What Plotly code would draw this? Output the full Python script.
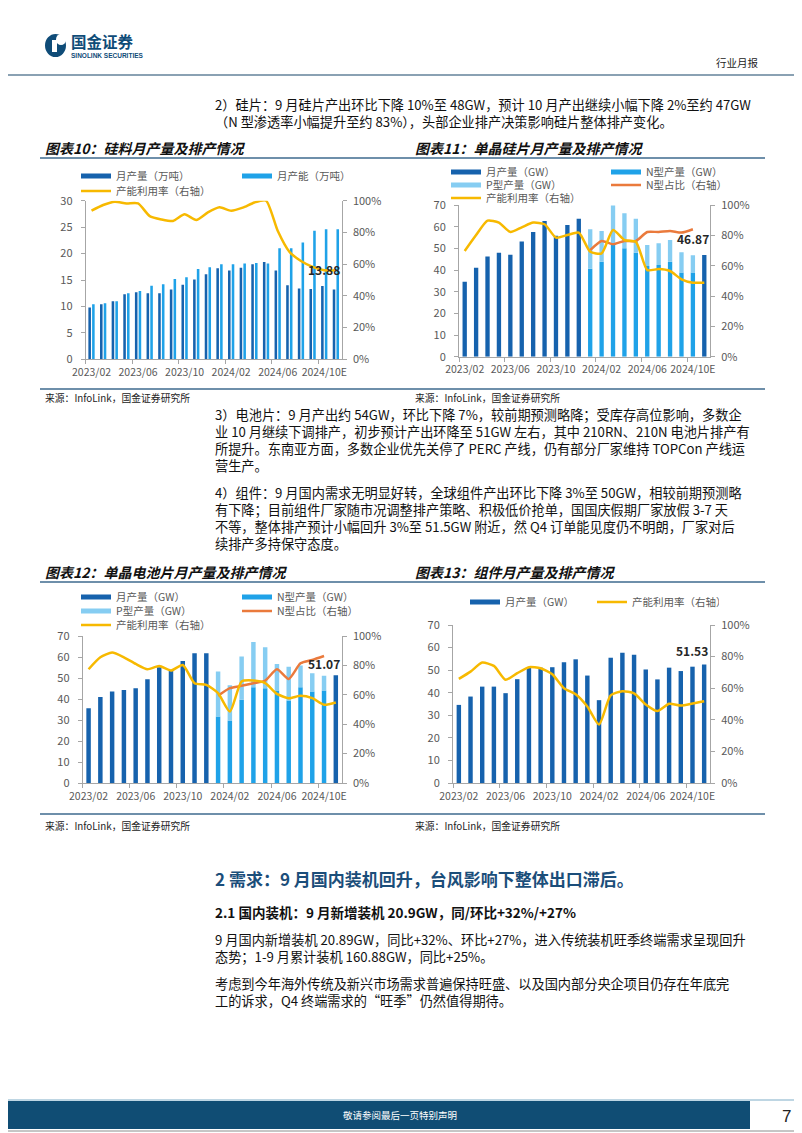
import plotly.graph_objects as go

# The page is laid out in reference-pixel coordinates; the browser body adds an
# 8px margin, so the figure is sized to fit the window and positions are offset.
PAGE_W, PAGE_H = 802, 1133
OFF = 8
W, H = PAGE_W - OFF, PAGE_H - OFF


def px(x):
    return (x - OFF) / W


def py(y):
    return 1 - (y - OFF) / H


# ---------------- data ----------------
n_periods = 22
periods = list(range(n_periods))
tick_positions = [0, 4, 8, 12, 16, 20]
tick_labels = ["2023/02", "2023/06", "2023/10", "2024/02", "2024/06", "2024/10E"]
label_index = 20

# 图表10 硅料
poly_output = [9.8, 10.4, 11.0, 12.3, 12.7, 12.5, 12.5, 13.2, 14.1, 15.1, 16.1, 17.2,
               16.8, 17.3, 18.0, 18.4, 16.8, 14.0, 13.4, 13.3, 13.88, 13.2]
poly_capacity = [10.4, 10.6, 11.0, 12.5, 12.9, 13.9, 14.2, 15.2, 15.5, 17.1, 17.4, 18.0,
                 18.0, 18.1, 18.2, 18.1, 21.0, 21.0, 22.1, 24.3, 24.6, 24.6]
poly_util = [93.7, 97.3, 99.4, 98.3, 98.3, 90.3, 88.2, 87.2, 91.4, 87.8, 92.6, 95.8,
             93.7, 95.6, 98.9, 100.0, 81.0, 67.8, 62.0, 58.3, 56.1, 56.1]

# 图表11 单晶硅片
wafer_output = [34.6, 41.1, 46.2, 48.0, 47.1, 53.2, 57.5, 62.6, 55.8, 60.8, 63.7,
                None, None, None, None, None, None, None, None, None, None, 46.9]
wafer_n = [None] * 11 + [40.6, 43.8, 52.0, 50.0, 48.0, 41.8, 42.3, 43.8, 38.8, 38.8] + [None]
wafer_p = [None] * 11 + [18.2, 14.2, 17.8, 16.2, 15.7, 9.7, 10.0, 10.0, 9.4, 8.07] + [None]
wafer_nshare = [None] * 11 + [70.3, 76.3, 74.1, 76.3, 76.3, 82.2, 82.2, 82.9, 81.8, 84.0] + [None]
wafer_util = [69.7, 80.2, 89.7, 88.4, 82.2, 85.3, 88.4, 87.3, 78.5, 80.2, 81.8, 69.2,
              68.1, 83.5, 76.9, 75.8, 57.1, 57.8, 56.5, 51.0, 48.8, 48.8]

# 图表12 单晶电池片
cell_output = [35.6, 40.9, 43.6, 44.3, 45.1, 49.4, 55.1, 53.5, 58.1, 61.8, 61.8,
               None, None, None, None, None, None, None, None, None, None, 51.3]
cell_n = [None] * 11 + [31.7, 29.8, 39.6, 45.6, 45.1, 44.0, 39.3, 45.6, 43.6, 44.1] + [None]
cell_p = [None] * 11 + [21.4, 16.8, 20.6, 21.6, 19.5, 12.7, 16.1, 10.4, 8.7, 6.97] + [None]
cell_nshare = [None] * 11 + [59.3, 64.5, 66.1, 67.9, 69.7, 77.4, 70.8, 81.4, 83.7, 86.4] + [None]
cell_util = [77.4, 85.5, 88.7, 85.5, 81.0, 77.4, 79.6, 76.5, 80.3, 67.9, 66.7, 61.1,
             48.6, 69.0, 69.7, 67.9, 60.6, 57.7, 59.3, 57.7, 53.2, 54.8]

# 图表13 组件
module_output = [34.6, 38.3, 42.7, 42.7, 39.8, 46.0, 51.3, 51.1, 51.3, 53.5, 54.8, 47.6,
                 36.7, 55.5, 57.7, 56.8, 50.3, 45.9, 51.1, 49.6, 51.53, 52.5]
module_util = [65.9, 70.5, 76.2, 74.1, 65.3, 69.5, 73.3, 72.6, 68.8, 60.0, 56.2, 48.4,
               37.0, 55.4, 58.1, 56.7, 49.7, 45.5, 50.1, 49.0, 50.3, 51.8]

# ---------------- style ----------------
DARK = "#1662ad"
BRIGHT = "#1fa2e8"
LIGHT = "#86cdf2"
YELLOW = "#f7b900"
ORANGE = "#ea7a3c"
AXC = "#a6a6a6"
TXT = "#595959"
FONT = "Noto Sans CJK SC, Noto Sans, sans-serif"

fig = go.Figure()


def base_of(vals):
    return [v if v is not None else 0 for v in vals]


def add_bar(xa, ya, y, color, width, offset, base=None):
    fig.add_trace(go.Bar(x=periods, y=y, base=base, xaxis=xa, yaxis=ya, width=width,
                         offset=offset, marker=dict(color=color, line=dict(width=0)),
                         showlegend=False, hoverinfo="skip"))


def add_line(xa, ya, y, color, name, legend):
    fig.add_trace(go.Scatter(x=periods, y=y, xaxis=xa, yaxis=ya, mode="lines", name=name,
                             line=dict(color=color, width=2.5, shape="spline", smoothing=0.6),
                             legend=legend, showlegend=True, hoverinfo="skip"))


def add_key(xa, ya, color, name, legend):
    fig.add_trace(go.Scatter(x=[None], y=[None], xaxis=xa, yaxis=ya, mode="lines", name=name,
                             line=dict(color=color, width=5), legend=legend, showlegend=True))


BW = 0.38
# Chart 10
add_bar("x", "y", poly_output, DARK, 0.22, -0.27)
add_bar("x", "y", poly_capacity, BRIGHT, 0.22, 0.05)
add_key("x", "y", DARK, "月产量（万吨）", "legend")
add_key("x", "y", BRIGHT, "月产能（万吨）", "legend")
add_line("x", "y2", poly_util, YELLOW, "产能利用率（右轴）", "legend2")

# Chart 11
add_bar("x2", "y3", wafer_output, DARK, BW, -BW / 2)
add_bar("x2", "y3", wafer_n, BRIGHT, BW, -BW / 2)
add_bar("x2", "y3", wafer_p, LIGHT, BW, -BW / 2, base=base_of(wafer_n))
add_key("x2", "y3", DARK, "月产量（GW）", "legend3")
add_key("x2", "y3", BRIGHT, "N型产量（GW）", "legend3")
add_key("x2", "y3", LIGHT, "P型产量（GW）", "legend4")
add_line("x2", "y4", wafer_nshare, ORANGE, "N型占比（右轴）", "legend4")
add_line("x2", "y4", wafer_util, YELLOW, "产能利用率（右轴）", "legend5")

# Chart 12
add_bar("x3", "y5", cell_output, DARK, BW, -BW / 2)
add_bar("x3", "y5", cell_n, BRIGHT, BW, -BW / 2)
add_bar("x3", "y5", cell_p, LIGHT, BW, -BW / 2, base=base_of(cell_n))
add_key("x3", "y5", DARK, "月产量（GW）", "legend6")
add_key("x3", "y5", BRIGHT, "N型产量（GW）", "legend6")
add_key("x3", "y5", LIGHT, "P型产量（GW）", "legend7")
add_line("x3", "y6", cell_nshare, ORANGE, "N型占比（右轴）", "legend7")
add_line("x3", "y6", cell_util, YELLOW, "产能利用率（右轴）", "legend8")

# Chart 13
add_bar("x4", "y7", module_output, DARK, BW, -BW / 2)
add_key("x4", "y7", DARK, "月产量（GW）", "legend9")
add_line("x4", "y8", module_util, YELLOW, "产能利用率（右轴）", "legend9")

# ---------------- axes ----------------
minor_vals = [p - 0.5 for p in tick_positions]


def xcfg(x0, x1, anchor):
    return dict(domain=[px(x0), px(x1)], anchor=anchor, range=[-0.5, n_periods - 0.5],
                tickmode="array", tickvals=tick_positions, ticktext=tick_labels,
                showline=True, linecolor=AXC, linewidth=1, ticks="", showgrid=False,
                zeroline=False, tickfont=dict(size=10.5, color=TXT), ticklabelstandoff=3,
                minor=dict(tickmode="array", tickvals=minor_vals, ticks="outside", ticklen=4,
                           tickcolor=AXC, showgrid=False),
                automargin=False, fixedrange=True)


def ycfg(y0, y1, anchor, ymax, dtick):
    return dict(domain=[py(y1), py(y0)], anchor=anchor, range=[0, ymax], dtick=dtick,
                showline=True, linecolor=AXC, linewidth=1, ticks="outside", ticklen=4,
                tickcolor=AXC, showgrid=False, zeroline=False,
                tickfont=dict(size=11, color=TXT), ticklabelstandoff=6,
                automargin=False, fixedrange=True)


def y2cfg(over, anchor):
    return dict(overlaying=over, side="right", anchor=anchor, range=[0, 100], dtick=20,
                ticksuffix="%", showline=True, linecolor=AXC, linewidth=1, ticks="outside",
                ticklen=4, tickcolor=AXC, showgrid=False, zeroline=False,
                tickfont=dict(size=11, color=TXT), ticklabelstandoff=4,
                automargin=False, fixedrange=True)


layout = dict(
    width=W, height=H, margin=dict(l=0, r=0, t=0, b=0, pad=0, autoexpand=False),
    paper_bgcolor="white", plot_bgcolor="rgba(0,0,0,0)",
    font=dict(family=FONT, color=TXT),
    barmode="overlay", showlegend=True,
    xaxis=xcfg(85.7, 341.7, "y"), yaxis=ycfg(200.7, 359.3, "x", 30, 5), yaxis2=y2cfg("y", "x"),
    xaxis2=xcfg(459, 710, "y3"), yaxis3=ycfg(205, 356.7, "x2", 70, 10), yaxis4=y2cfg("y3", "x2"),
    xaxis3=xcfg(82.7, 341.7, "y5"), yaxis5=ycfg(636, 783, "x3", 70, 10), yaxis6=y2cfg("y5", "x3"),
    xaxis4=xcfg(453, 710, "y7"), yaxis7=ycfg(625, 783, "x4", 70, 10), yaxis8=y2cfg("y7", "x4"),
)


def leg(x, y, entry):
    return dict(orientation="h", x=px(x), y=py(y), xanchor="left", yanchor="middle",
                bgcolor="rgba(0,0,0,0)", font=dict(size=10.5, color=TXT, family=FONT),
                entrywidth=entry, entrywidthmode="pixels", itemwidth=30, tracegroupgap=0,
                itemclick=False, itemdoubleclick=False)


layout["legend"] = leg(76, 176, 116)
layout["legend2"] = leg(76, 191, 116)
layout["legend3"] = leg(446, 172, 115)
layout["legend4"] = leg(446, 185, 115)
layout["legend5"] = leg(446, 198, 115)
layout["legend6"] = leg(76, 597, 116)
layout["legend7"] = leg(76, 611, 116)
layout["legend8"] = leg(76, 625, 116)
layout["legend9"] = leg(465, 602, 82)
fig.update_layout(**layout)

# ---------------- annotations ----------------
ann = []


def text(x, y, s, size=13, color="#111111", xanchor="left", bold=False, italic=False, family=FONT):
    if italic:
        s = "<i>" + s + "</i>"
    if bold:
        s = "<b>" + s + "</b>"
    ann.append(dict(x=px(x), y=py(y), xref="paper", yref="paper", text=s, showarrow=False,
                    xanchor=xanchor, yanchor="middle", borderpad=0,
                    font=dict(size=size, color=color, family=family)))


# data labels
for xa, ya, val, shift in [("x", "y", poly_output[label_index], 6),
                           ("x2", "y3", wafer_n[label_index] + wafer_p[label_index], 6),
                           ("x3", "y5", cell_n[label_index] + cell_p[label_index], 2),
                           ("x4", "y7", module_output[label_index], 6)]:
    ann.append(dict(x=label_index, y=val, xref=xa, yref=ya, text="<b>%.2f</b>" % val,
                    showarrow=False, yanchor="bottom", yshift=shift,
                    font=dict(size=12, color="#262626", family=FONT)))

# header
text(70, 41, "国金证券", size=15.5, color="#0f4c78", bold=True)
text(70, 56, "SINOLINK SECURITIES", size=6.5, color="#0f4c78", bold=True,
     family="Liberation Sans, Arial, sans-serif")
text(760, 63, "行业月报", size=10.5, color="#222222", xanchor="right")

body = [
    (105, "2）硅片：9 月硅片产出环比下降 10%至 48GW，预计 10 月产出继续小幅下降 2%至约 47GW"),
    (122, "（N 型渗透率小幅提升至约 83%），头部企业排产决策影响硅片整体排产变化。"),
    (414.5, "3）电池片：9 月产出约 54GW，环比下降 7%，较前期预测略降；受库存高位影响，多数企"),
    (431, "业 10 月继续下调排产，初步预计产出环降至 51GW 左右，其中 210RN、210N 电池片排产有"),
    (448, "所提升。东南亚方面，多数企业优先关停了 PERC 产线，仍有部分厂家维持 TOPCon 产线运"),
    (465, "营生产。"),
    (492, "4）组件：9 月国内需求无明显好转，全球组件产出环比下降 3%至 50GW，相较前期预测略"),
    (509, "有下降；目前组件厂家随市况调整排产策略、积极低价抢单，国国庆假期厂家放假 3-7 天"),
    (526, "不等，整体排产预计小幅回升 3%至 51.5GW 附近，然 Q4 订单能见度仍不明朗，厂家对后"),
    (543, "续排产多持保守态度。"),
    (939, "9 月国内新增装机 20.89GW，同比+32%、环比+27%，进入传统装机旺季终端需求呈现回升"),
    (956, "态势；1-9 月累计装机 160.88GW，同比+25%。"),
    (983, "考虑到今年海外传统及新兴市场需求普遍保持旺盛、以及国内部分央企项目仍存在年底完"),
    (1000, "工的诉求，Q4 终端需求的“旺季”仍然值得期待。"),
]
for y, s in body:
    text(214, y, s, size=13.2)

text(214, 878, "2 需求：9 月国内装机回升，台风影响下整体出口滞后。", size=17, color="#1b4e7a", bold=True)
text(214, 912, "2.1 国内装机：9 月新增装机 20.9GW，同/环比+32%/+27%", size=13.5, color="#111111", bold=True)

# chart titles and sources
text(44, 148, "图表10：硅料月产量及排产情况", size=14, color="#111111", bold=True, italic=True)
text(414, 148, "图表11：单晶硅片月产量及排产情况", size=14, color="#111111", bold=True, italic=True)
text(44, 572, "图表12：单晶电池片月产量及排产情况", size=14, color="#111111", bold=True, italic=True)
text(414, 572, "图表13：组件月产量及排产情况", size=14, color="#111111", bold=True, italic=True)
for y in (397.5, 826):
    text(44, y, "来源：InfoLink，国金证券研究所", size=9.8, color="#222222")
    text(414, y, "来源：InfoLink，国金证券研究所", size=9.8, color="#222222")

# footer
text(400, 1115, "敬请参阅最后一页特别声明", size=9.5, color="white", xanchor="center")
text(786, 1116, "7", size=17, color="#222222", xanchor="center",
     family="Liberation Sans, Arial, sans-serif")

fig.update_layout(annotations=ann)

# ---------------- page shapes ----------------
shapes = []


def line(x0, y0, x1, y1, color, width):
    shapes.append(dict(type="line", xref="paper", yref="paper", x0=px(x0), y0=py(y0),
                       x1=px(x1), y1=py(y1), line=dict(color=color, width=width)))


def rect(x0, y0, x1, y1, fill, lc=None, lw=0):
    shapes.append(dict(type="rect", xref="paper", yref="paper", x0=px(x0), y0=py(y0),
                       x1=px(x1), y1=py(y1), fillcolor=fill,
                       line=dict(color=lc or fill, width=lw), layer="below"))


# page border (right side; left edge lies in the body margin)
line(801, 8, 801, 1133, "#8c8c8c", 1)
# header line
line(8, 75, 802, 75, "#8aa1b3", 2)
# logo
shapes.append(dict(type="circle", xref="paper", yref="paper", x0=px(45), y0=py(57), x1=px(66), y1=py(34),
                   fillcolor="#0f4c78", line=dict(width=0)))
shapes.append(dict(type="circle", xref="paper", yref="paper", x0=px(56), y0=py(45), x1=px(66), y1=py(34),
                   fillcolor="white", line=dict(width=0)))
shapes.append(dict(type="rect", xref="paper", yref="paper", x0=px(52), y0=py(52), x1=px(57), y1=py(40),
                   fillcolor="white", line=dict(width=0)))
# chart frame lines
for y in (158, 582):
    line(40, y, 765, y, "#3e6a8e", 1.3)
for y in (389, 814):
    line(40, y, 765, y, "#3e6a8e", 1.3)
# footer
line(8, 1100, 802, 1100, "#a9c8da", 1.5)
rect(8, 1101, 750, 1129, "#104d74")
line(8, 1131, 802, 1131, "#8c8c8c", 1)

fig.update_layout(shapes=shapes)

fig.write_html("out.html")
